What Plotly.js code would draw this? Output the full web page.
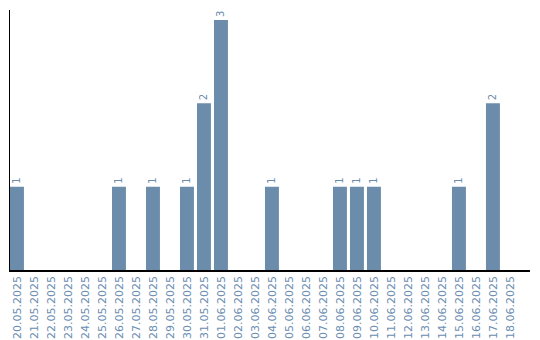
<!DOCTYPE html>
<html>
<head>
<meta charset="utf-8">
<script src="https://cdn.plot.ly/plotly-3.0.1.min.js"></script>
<style>html,body{margin:0;padding:0;background:#fff;}#chart{width:540px;height:340px;}</style>
</head>
<body>
<div id="chart"></div>
<script>
const dates = ["20.05.2025","21.05.2025","22.05.2025","23.05.2025","24.05.2025","25.05.2025","26.05.2025","27.05.2025","28.05.2025","29.05.2025","30.05.2025","31.05.2025","01.06.2025","02.06.2025","03.06.2025","04.06.2025","05.06.2025","06.06.2025","07.06.2025","08.06.2025","09.06.2025","10.06.2025","11.06.2025","12.06.2025","13.06.2025","14.06.2025","15.06.2025","16.06.2025","17.06.2025","18.06.2025"];
const counts = [1,0,0,0,0,0,1,0,1,0,1,2,3,0,0,1,0,0,0,1,1,1,0,0,0,0,1,0,2,0];
const labels = counts.map(v => v > 0 ? String(v) : "");

Plotly.newPlot("chart", [{
  type: "bar",
  x: dates,
  y: counts,
  text: labels,
  textposition: "outside",
  textangle: -90,
  cliponaxis: false,
  textfont: {family: "DejaVu Sans, sans-serif", size: 10, color: "#6a8cab"},
  marker: {color: "#6b8cab"},
  hoverinfo: "none"
}], {
  width: 540, height: 340,
  margin: {l: 10, r: 10, t: 10, b: 70, pad: 0},
  paper_bgcolor: "#fff", plot_bgcolor: "#fff",
  bargap: 0.18,
  showlegend: false,
  xaxis: {
    type: "category",
    range: [-0.41, 30.18],
    showline: true, linecolor: "#000", linewidth: 1.5,
    showgrid: false, zeroline: false,
    ticks: "", tickangle: -90,
    tickfont: {family: "DejaVu Sans, sans-serif", size: 11, color: "#6a8db0"}
  },
  yaxis: {
    range: [0, 3.12],
    showline: true, linecolor: "#000", linewidth: 1.5,
    showgrid: false, zeroline: false,
    showticklabels: false, ticks: ""
  }
}, {staticPlot: true, displayModeBar: false});
</script>
</body>
</html>
